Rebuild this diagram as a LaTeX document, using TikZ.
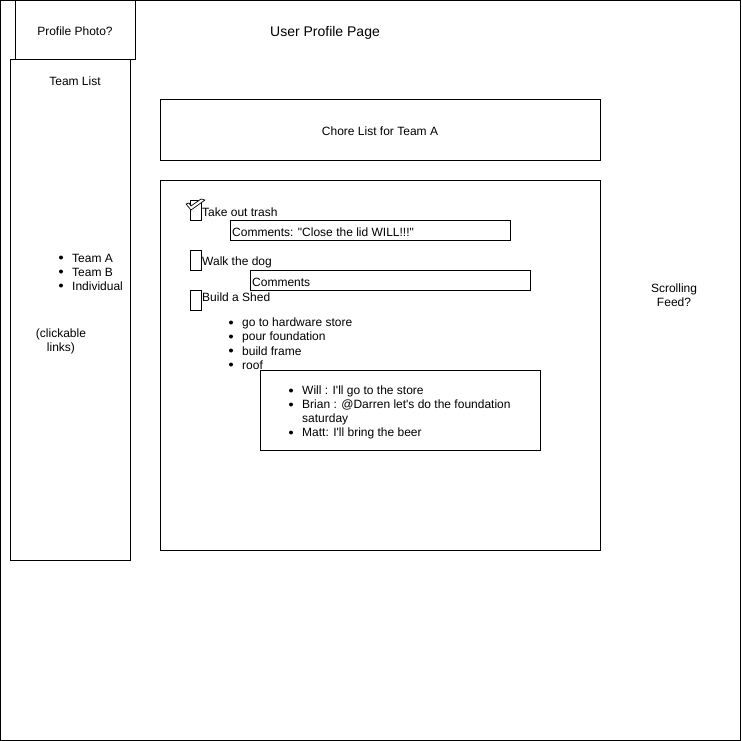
\documentclass[tikz,border=0pt]{standalone}
\usepackage{fontspec}
\setmainfont{Liberation Sans}[Ligatures=TeXOff]
\begin{document}
\begin{tikzpicture}[x=1pt,y=-1pt,
  box/.style={draw=black,line width=1pt},
  txt/.style={font=\fontsize{12}{14}\selectfont,inner sep=0pt},
  lt/.style={txt,anchor=west},
  bul/.style={circle,fill=black,inner sep=0pt,minimum size=4pt}]
\useasboundingbox (0,0) rectangle (741,741);
\draw[box] (0.5,0.5) rectangle (740.5,740.5);
% boxes
\node[box,minimum width=120pt,minimum height=60pt,inner sep=0pt] (photo) at (75,30) {};
\node[txt] at ([yshift=-1pt]photo.center) {Profile Photo?};
\node[txt,font=\fontsize{14}{16}\selectfont] (title) at (325,32.5) {User Profile Page};
\node[box,minimum width=120pt,minimum height=500pt,inner sep=0pt] (team) at (70,310) {};
\node[txt] (teamlbl) at (75,81.5) {Team List};
\node[box,minimum width=440pt,minimum height=60pt,inner sep=0pt] (chorehead) at (380,130) {};
\node[txt] at ([yshift=-1.5pt]chorehead.center) {Chore List for Team A};
\node[box,minimum width=440pt,minimum height=370pt,inner sep=0pt] (chores) at (380,365) {};
% team bullets
\foreach \y/\t [count=\i] in {257/Team A,271/Team B,285/Individual}{
  \node[bul] (tb\i) at (61,\y+0.5) {};
  \node[lt] (tt\i) at (72,\y+1) {\t};
}
\node[txt,align=center] (click) at (61,341) {(clickable\\links)};
% checkboxes
\node[box,minimum width=11pt,minimum height=20pt,inner sep=0pt] (cb1) at (195.5,210) {};
\node[box,minimum width=11pt,minimum height=20pt,inner sep=0pt] (cb2) at (195.5,260) {};
\node[box,minimum width=11pt,minimum height=20pt,inner sep=0pt] (cb3) at (195.5,300) {};
\draw[line width=0.7pt,line join=round,fill=white]
  (186,204) -- (189,203) -- (191,206) -- (201,199) -- (205,200) -- (191,210) -- cycle;
\node[lt] (t1) at (202,212) {Take out trash};
\node[lt] (t2) at (202,262) {Walk the dog};
\node[lt] (t3) at (202,297) {Build a Shed};
\node[box,minimum width=280pt,minimum height=20pt,inner sep=0pt] (c1) at (370,230) {};
\node[lt] at (232,232) {Comments: "Close the lid WILL!!!"};
\node[box,minimum width=280pt,minimum height=20pt,inner sep=0pt] (c2) at (390,280) {};
\node[lt] at (252,282) {Comments};
% sub bullets
\foreach \y/\t [count=\i] in {322/go to hardware store,336/pour foundation,350/build frame,364/roof}{
  \node[bul] (sb\i) at (231,\y+0.5) {};
  \node[lt] (st\i) at (242,\y+1) {\t};
}
\node[box,minimum width=280pt,minimum height=80pt,inner sep=0pt] (thread) at (400,410) {};
\node[bul] (cb_1) at (291,390.5) {};
\node[lt] at (302,391) {Will : I'll go to the store};
\node[bul] (cb_2) at (291,404.5) {};
\node[lt] at (302,405) {Brian : @Darren let's do the foundation};
\node[lt] at (302,419) {saturday};
\node[bul] (cb_3) at (291,432.5) {};
\node[lt] at (302,433) {Matt: I'll bring the beer};
\node[txt,align=center] (feed) at (674,295) {Scrolling\\Feed?};
\end{tikzpicture}
\end{document}
